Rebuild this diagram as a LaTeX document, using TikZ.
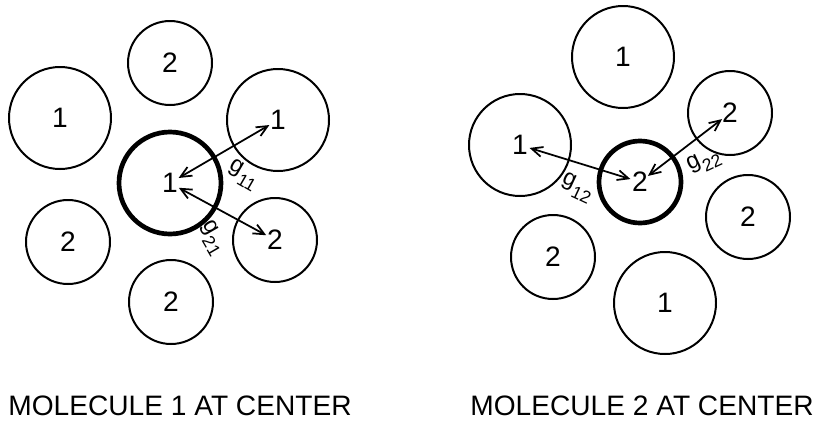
\documentclass[tikz,border=0pt]{standalone}
\usepackage{fontspec}
\setmainfont{Liberation Sans}
\usetikzlibrary{arrows.meta}
\newcommand{\glab}[1]{g\kern.5pt\raisebox{-.7ex}{\fontsize{15}{16}\selectfont #1}}
\begin{document}
\begin{tikzpicture}[x=0.3mm, y=-0.3mm,
    mol/.style={circle, draw, line width=1.7pt, inner sep=0pt, font=\fontsize{24}{28}\selectfont},
    big/.style={mol, minimum size=30.6mm},
    small/.style={mol, minimum size=25.2mm},
    ctr/.style={line width=4pt},
    dist/.style={{Straight Barb[length=3.3mm,width=3mm]}-{Straight Barb[length=3.3mm,width=3mm]}, line width=1.5pt, shorten <=3mm, shorten >=3mm},
    glabel/.style={inner sep=0pt, font=\fontsize{20}{22}\selectfont},
    caption/.style={font=\fontsize{24}{28}\selectfont}]
  \useasboundingbox (0,0) rectangle (830,436);
  % molecule 1 at center
  \node[big, ctr] (a0) at (170,183) {1};
  \node[small] (a1) at (170,63) {2};
  \node[big] (a2) at (60,118) {1};
  \node[big] (a3) at (278,120) {1};
  \node[small] (a4) at (68,242) {2};
  \node[small] (a5) at (275,240) {2};
  \node[small] (a6) at (171,302) {2};
  % molecule 2 at center
  \node[small, ctr, minimum size=24.6mm] (b0) at (640,182) {2};
  \node[big] (b1) at (623,57) {1};
  \node[big] (b2) at (520,145) {1};
  \node[small] (b3) at (730,113) {2};
  \node[small] (b4) at (748,217) {2};
  \node[small] (b5) at (553,257) {2};
  \node[big] (b6) at (665,303) {1};
  % arrows
  \draw[dist] (a0.center) -- (a3.center);
  \draw[dist] (a0.center) -- (a5.center);
  \draw[dist] (b2.center) -- (b0.center);
  \draw[dist] (b0.center) -- (b3.center);
  % labels
  \node[glabel, rotate=-30] (g11) at (243,175) {\glab{11}};
  \node[glabel, rotate=-60] (g21) at (212,238) {\glab{21}};
  \node[glabel, rotate=-25] (g12) at (577,188) {\glab{12}};
  \node[glabel, rotate=25] (g22) at (704,162) {\glab{22}};
  % captions
  \node[caption] (cap1) at (180,406) {MOLECULE 1 AT CENTER};
  \node[caption] (cap2) at (642,406) {MOLECULE 2 AT CENTER};
\end{tikzpicture}
\end{document}
